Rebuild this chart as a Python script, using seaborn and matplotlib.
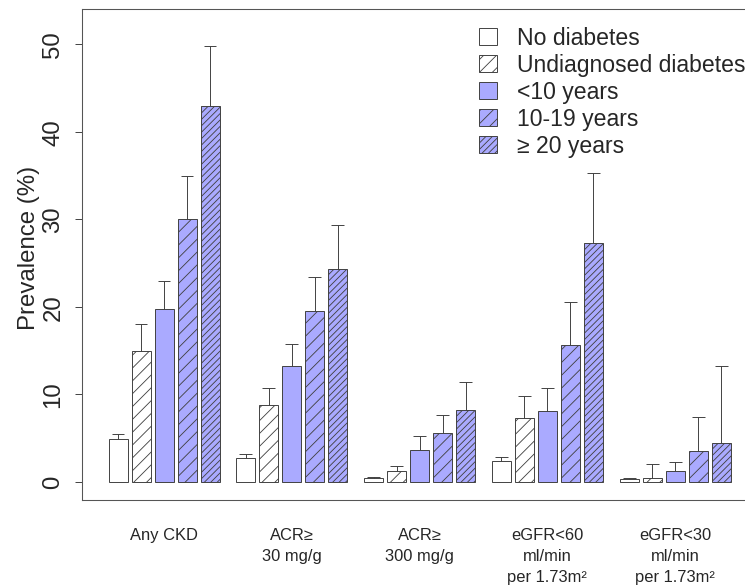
import numpy as np
import pandas as pd
import matplotlib
matplotlib.use("Agg")
import matplotlib.pyplot as plt
import seaborn as sns
from matplotlib.patches import Patch

# chart data (prevalence %, upper CI limit)
outcomes = ["Any CKD", "ACR\u2265\n30 mg/g", "ACR\u2265\n300 mg/g",
            "eGFR<60\nml/min\nper 1.73m\u00b2", "eGFR<30\nml/min\nper 1.73m\u00b2"]
groups = ["No diabetes", "Undiagnosed diabetes", "<10 years", "10-19 years", "\u2265 20 years"]

no_diab = [4.9, 2.75, 0.4, 2.4, 0.3]
no_diab_hi = [5.5, 3.2, 0.6, 2.9, 0.5]
undiag = [15.0, 8.8, 1.2, 7.3, 0.4]
undiag_hi = [18.0, 10.7, 1.8, 9.8, 2.1]
lt10 = [19.8, 13.2, 3.6, 8.1, 1.3]
lt10_hi = [23.0, 15.8, 5.2, 10.7, 2.3]
y10_19 = [30.0, 19.5, 5.6, 15.6, 3.5]
y10_19_hi = [35.0, 23.4, 7.7, 20.6, 7.4]
ge20 = [43.0, 24.3, 8.2, 27.3, 4.5]
ge20_hi = [49.8, 29.4, 11.4, 35.3, 13.2]

values = [no_diab, undiag, lt10, y10_19, ge20]
uppers = [no_diab_hi, undiag_hi, lt10_hi, y10_19_hi, ge20_hi]

fills = ["white", "white", "#aaaaff", "#aaaaff", "#aaaaff"]
hatches = ["", "//", "", "//", "////"]
edge = "#404040"

rows = []
for g, vals in zip(groups, values):
    for o, v in zip(outcomes, vals):
        rows.append({"outcome": o, "group": g, "prev": v})
df = pd.DataFrame(rows)

sns.set_style("ticks")
plt.rcParams["font.family"] = ["Liberation Sans", "DejaVu Sans"]
plt.rcParams["hatch.linewidth"] = 0.8

DPI = 77
fig = plt.figure(figsize=(745.4 / DPI, 586.4 / DPI), dpi=DPI)
ax = fig.add_axes([82 / 745, 86 / 586, (756 - 82) / 745, (577 - 86) / 586])

sns.barplot(data=df, x="outcome", y="prev", hue="group", order=outcomes,
            hue_order=groups, palette=dict(zip(groups, fills)), saturation=1,
            width=0.9, gap=0.17, edgecolor=edge, linewidth=0.9,
            errorbar=None, legend=False, ax=ax)

for cont, h, ups in zip(ax.containers, hatches, uppers):
    for bar, up in zip(cont, ups):
        bar.set_hatch(h)
        xc = bar.get_x() + bar.get_width() / 2
        top = bar.get_height()
        ax.vlines(xc, top, up, color=edge, lw=0.9, zorder=1)
        ax.hlines(up, xc - 0.05, xc + 0.05, color=edge, lw=0.9, zorder=1)

ax.set_xlim(-0.642, 4.636)
ax.set_ylim(-2.06, 54.1)
ax.set_yticks([0, 10, 20, 30, 40, 50])
ax.set_xlabel("")
ax.set_ylabel("Prevalence (%)", fontsize=22.4)
ax.yaxis.set_label_coords(-0.062, 0.513)
ax.tick_params(axis="y", labelsize=22.4, length=6.5, width=0.9, color=edge,
               pad=10, labelrotation=90)
for lab in ax.get_yticklabels():
    lab.set_va("center")
ax.tick_params(axis="x", length=0, labelsize=15.4, pad=26)
for lab in ax.get_xticklabels():
    lab.set_multialignment("center")
    lab.set_linespacing(1.5)
for s in ["left", "bottom", "top", "right"]:
    ax.spines[s].set_color("#555555")
    ax.spines[s].set_linewidth(1.0)

handles = [Patch(facecolor=f, edgecolor=edge, hatch=h, lw=0.9) for f, h in zip(fills, hatches)]
fig.legend(handles, groups, loc="upper left", bbox_to_anchor=(479 / 745, 1 - 27 / 586),
           frameon=False, fontsize=21.5, handlelength=0.75, handleheight=0.75,
           handletextpad=0.9, labelspacing=0.17, borderpad=0, borderaxespad=0)

fig.savefig("out.png", dpi=DPI)
